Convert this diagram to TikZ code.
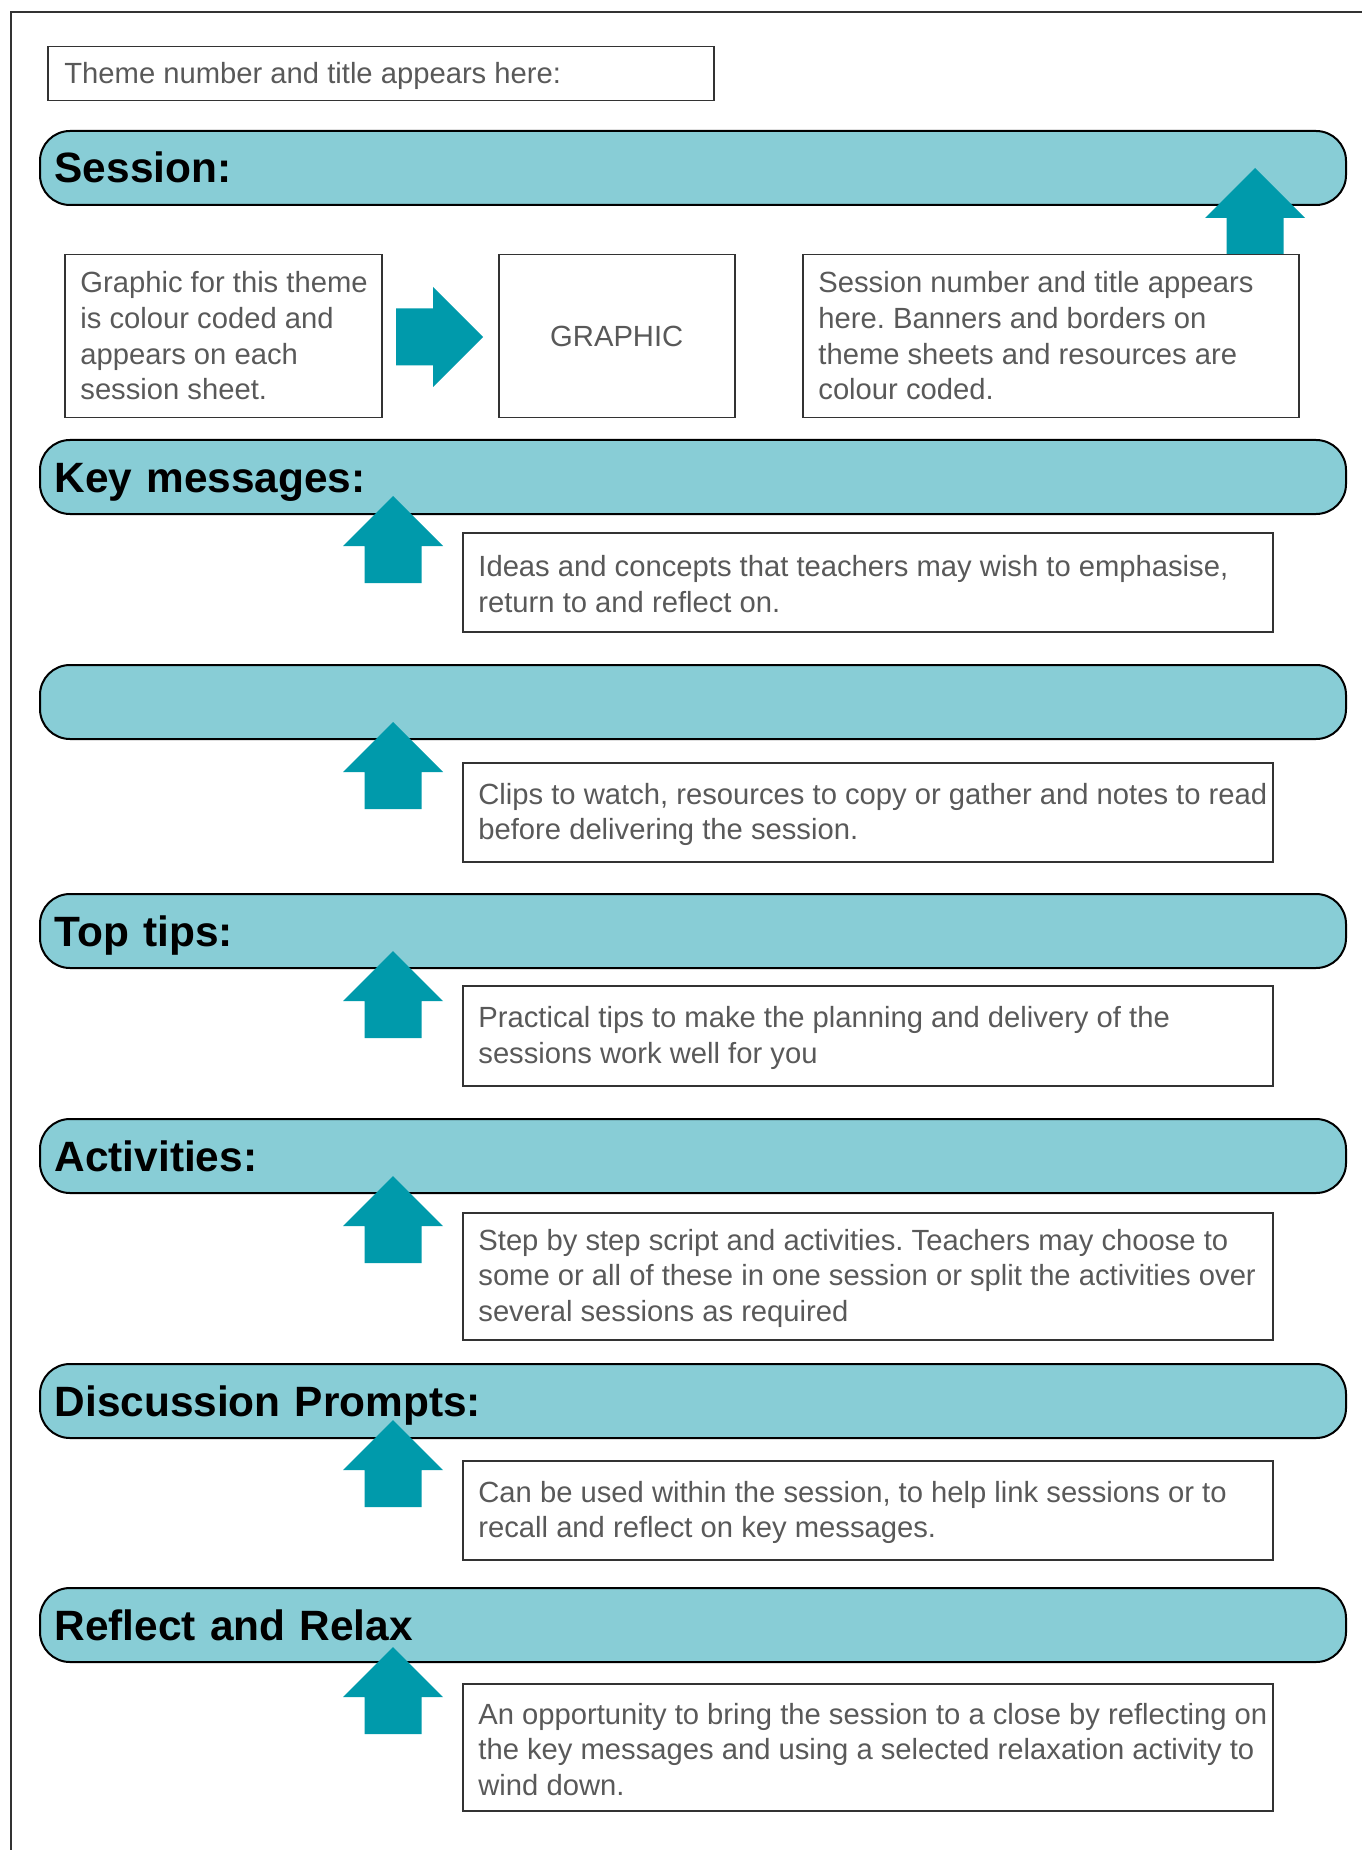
\documentclass[tikz,border=0pt]{standalone}
\usepackage{fontspec}
\setmainfont{Liberation Sans}
\usepackage{xcolor}
\usepackage{tikz}
\usetikzlibrary{positioning}
\frenchspacing

\definecolor{bannerfill}{HTML}{88CDD6}
\definecolor{arrowfill}{HTML}{009AAB}
\definecolor{txtgray}{HTML}{595959}
\definecolor{linegray}{HTML}{333333}

\tikzset{
  banner/.style={draw=black, line width=1pt, fill=bannerfill, rounded corners=15pt,
    anchor=north west, minimum width=653pt, minimum height=37pt, text width=638.4pt,
    inner xsep=7.3pt, text height=15pt, text depth=0pt, align=left, text=black,
    font=\fontsize{21.2}{25}\selectfont\bfseries},
  txtbox/.style={draw=linegray, line width=0.75pt, anchor=north west, inner sep=0pt},
  bodytext/.style={anchor=west, inner sep=0pt, yshift=-1pt, align=left, text=txtgray,
    font=\fontsize{14.6}{17.8}\selectfont},
  uparrow/.pic={\fill[arrowfill] (0,0) -- (50,50) -- (28.5,50) -- (28.5,87)
    -- (-28.5,87) -- (-28.5,50) -- (-50,50) -- cycle;}
}

\begin{document}
\begin{tikzpicture}[x=0.5pt, y=-0.5pt]
			\useasboundingbox (0,0) rectangle (1362,1850);
			% Page edge:
			\draw[linegray, line width=0.75pt] (11,1850) -- (11,12) -- (1362,12);
			% Banners:
			\node[banner] (session) at (39,130){Session:};
			\node[banner] (keymsg) at (39,439){Key messages:};
			\node[banner] (prep) at (39,664){};
			\node[banner] (tips) at (39,893){Top tips:};
			\node[banner] (activ) at (39,1118){Activities:};
			\node[banner] (discuss) at (39,1363){Discussion Prompts:};
			\node[banner] (reflect) at (39,1587){Reflect and Relax};
			% Arrows:
			\pic at (1255,168){uparrow};
			\pic[rotate=-90] at (483,337){uparrow};
			\pic at (393,496){uparrow};
			\pic at (393,722){uparrow};
			\pic at (393,951){uparrow};
			\pic at (393,1176){uparrow};
			\pic at (393,1420){uparrow};
			\pic at (393,1647){uparrow};
			% Boxes and texts:
			\node[txtbox, minimum width=333pt, minimum height=27pt] (theme) at (47,46){};
			\node[bodytext] (theme-t) at ([xshift=8.5pt]theme.west){Theme number and title appears here:};
			\node[txtbox, minimum width=158.5pt, minimum height=81.5pt] (graphicnote) at (64,254){};
			\node[bodytext, yshift=1.2pt] (graphicnote-t) at ([xshift=8pt]graphicnote.west){Graphic for this theme\\is colour coded and\\appears on each\\session sheet.};
			\node[txtbox, minimum width=118pt, minimum height=81.5pt, text=txtgray, font=\fontsize{14.6}{17.8}\selectfont] (graphic) at (498,254){GRAPHIC};
			\node[txtbox, minimum width=248pt, minimum height=81.5pt] (sessnote) at (802,254){};
			\node[bodytext, yshift=1.2pt] (sessnote-t) at ([xshift=8pt]sessnote.west){Session number and title appears\\here. Banners and borders on\\theme sheets and resources are\\colour coded.};
			\node[txtbox, minimum width=405pt, minimum height=49.5pt] (keybox) at (462,532){};
			\node[bodytext] (keybox-t) at ([xshift=8pt]keybox.west){Ideas and concepts that teachers may wish to emphasise,\\return to and reflect on.};
			\node[txtbox, minimum width=405pt, minimum height=49.5pt] (prepbox) at (462,762){};
			\node[bodytext] (prepbox-t) at ([xshift=8pt]prepbox.west){Clips to watch, resources to copy or gather and notes to read\\before delivering the session.};
			\node[txtbox, minimum width=405pt, minimum height=50pt] (tipsbox) at (462,985){};
			\node[bodytext] (tipsbox-t) at ([xshift=8pt]tipsbox.west){Practical tips to make the planning and delivery of the\\sessions work well for you};
			\node[txtbox, minimum width=405pt, minimum height=63.5pt] (activbox) at (462,1212){};
			\node[bodytext] (activbox-t) at ([xshift=8pt]activbox.west){Step by step script and activities. Teachers may choose to\\some or all of these in one session or split the activities over\\several sessions as required};
			\node[txtbox, minimum width=405pt, minimum height=49.5pt] (discussbox) at (462,1460){};
			\node[bodytext] (discussbox-t) at ([xshift=8pt]discussbox.west){Can be used within the session, to help link sessions or to\\recall and reflect on key messages.};
			\node[txtbox, minimum width=405pt, minimum height=63.5pt] (reflectbox) at (462,1683){};
			\node[bodytext] (reflectbox-t) at ([xshift=8pt]reflectbox.west){An opportunity to bring the session to a close by reflecting on\\the key messages and using a selected relaxation activity to\\wind down.};
		\end{tikzpicture}
\end{document}
